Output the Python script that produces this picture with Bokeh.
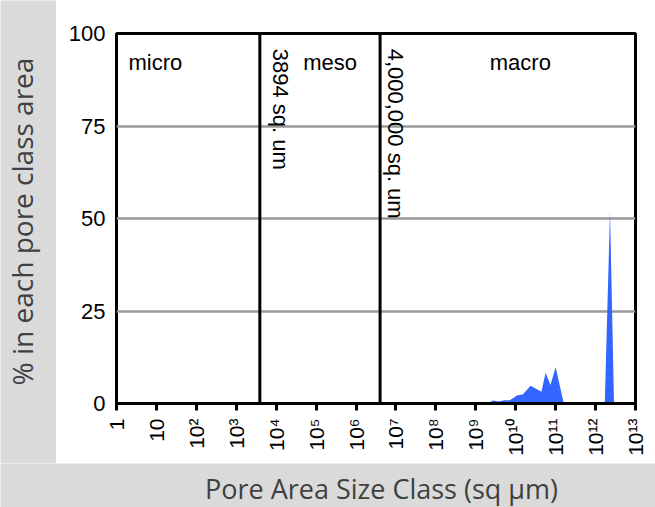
import math
from bokeh.plotting import figure
from bokeh.models import (Range1d, FixedTicker, CustomJSTickFormatter, Span, Label)
from bokeh.layouts import row, column
from bokeh.embed import file_html
from bokeh.resources import INLINE

# ---------------- data ----------------
pore_area = [1.1e9, 1.4e9, 1.8e9, 2.75e9, 3.8e9, 5.1e9, 7.1e9, 1.1e10, 1.5e10,
             2.35e10, 4.4e10, 5.6e10, 7.4e10, 1.0e11, 1.6e11, 1.7e12, 2.3e12, 2.9e12]
pct_area = [0, 0.45, 0, 0.8, 0.55, 0.9, 0.9, 2.25, 2.4,
            4.8, 3.2, 8.3, 5.0, 9.8, 0, 0, 52, 0]

x_ticks = [1, 1e1, 1e2, 1e3, 1e4, 1e5, 1e6, 1e7, 1e8, 1e9, 1e10, 1e11, 1e12, 1e13]
x_tick_labels = ["1", "10", "10²", "10³", "10⁴", "10⁵", "10⁶", "10⁷", "10⁸",
                 "10⁹", "10¹⁰", "10¹¹", "10¹²", "10¹³"]
y_ticks = [0, 25, 50, 75, 100]

class_bounds = [3894, 4000000]
bound_labels = ["3894 sq. um", "4,000,000 sq. um"]
class_names = ["micro", "meso", "macro"]

x_title = "Pore Area Size Class (sq µm)"
y_title = "% in each pore class area"

# ---------------- style ----------------
BG = "#dadada"
FONT = "Liberation Sans"
TITLE_FONT = "Open Sans"
FS = "22px"

p = figure(width=599, height=463, x_axis_type="log",
           x_range=Range1d(1, 1e13), y_range=Range1d(0, 100),
           output_backend="svg", toolbar_location=None, frame_align=False,
           min_border_left=60, min_border_right=20, min_border_top=33, min_border_bottom=60,
           border_fill_color="white", background_fill_color="white",
           outline_line_color="black", outline_line_width=3)

# grid
p.xgrid.visible = False
p.ygrid.ticker = FixedTicker(ticks=y_ticks)
p.ygrid.grid_line_color = "#9a9a9a"
p.ygrid.grid_line_width = 2.5

# y axis
p.yaxis.ticker = FixedTicker(ticks=y_ticks)
p.yaxis.axis_line_color = None
p.yaxis.major_tick_line_color = None
p.yaxis.minor_tick_line_color = None
p.yaxis.major_tick_out = 0
p.yaxis.major_tick_in = 0
p.yaxis.major_label_standoff = 11
p.yaxis.major_label_text_font = FONT
p.yaxis.major_label_text_font_size = FS
p.yaxis.major_label_text_color = "black"

# x axis
p.xaxis.ticker = FixedTicker(ticks=x_ticks)
p.xaxis.axis_line_color = "black"
p.xaxis.axis_line_width = 3
p.xaxis.major_tick_line_color = "black"
p.xaxis.major_tick_line_width = 3
p.xaxis.major_tick_out = 7
p.xaxis.major_tick_in = 0
p.xaxis.minor_tick_line_color = None
p.xaxis.major_label_orientation = math.pi / 2
p.xaxis.major_label_standoff = 8
p.xaxis.major_label_text_font = FONT
p.xaxis.major_label_text_font_size = "21px"
p.xaxis.major_label_text_color = "black"
p.xaxis.formatter = CustomJSTickFormatter(
    args=dict(vals=x_ticks, labels=x_tick_labels),
    code="""
const lt = Math.log10(tick);
for (let i = 0; i < vals.length; i++) {
  if (Math.abs(Math.log10(vals[i]) - lt) < 1e-6) return labels[i];
}
return "";
""")

# area
p.varea(x=pore_area, y1=0, y2=pct_area, fill_color="#3366ff", fill_alpha=1)

# class boundaries
for b in class_bounds:
    p.add_layout(Span(location=b, dimension="height", line_color="black", line_width=3))

name_x = [2, 4.73e4, 2.24e9]
for nx, name in zip(name_x, class_names):
    p.add_layout(Label(x=nx, y=92.2, text=name, text_font=FONT, text_font_size=FS,
                       text_color="black", text_baseline="alphabetic", text_align="left"))

bound_text_x = [1.26e4, 1.0e7]
for bx, t in zip(bound_text_x, bound_labels):
    p.add_layout(Label(x=bx, y=95.9, text=t, angle=-math.pi / 2, text_font=FONT,
                       text_font_size=FS, text_color="black",
                       text_align="left", text_baseline="middle"))

# left title panel
lf = figure(width=56, height=463, output_backend="svg", toolbar_location=None,
            x_axis_location=None, y_axis_location=None, min_border=0, frame_align=False,
            x_range=Range1d(0, 1), y_range=Range1d(0, 1),
            border_fill_color=BG, background_fill_color=BG, outline_line_color=None)
lf.grid.visible = False
lf.add_layout(Label(x=21, y=242, x_units="screen", y_units="screen", text=y_title,
                    angle=math.pi / 2, text_align="center", text_baseline="alphabetic",
                    text_font=TITLE_FONT, text_font_size="28px", text_color="#404040"))

# bottom title panel
bf = figure(width=655, height=44, output_backend="svg", toolbar_location=None,
            x_axis_location=None, y_axis_location=None, min_border=0, frame_align=False,
            x_range=Range1d(0, 1), y_range=Range1d(0, 1),
            border_fill_color=BG, background_fill_color=BG, outline_line_color=None)
bf.grid.visible = False
bf.add_layout(Label(x=381, y=19, x_units="screen", y_units="screen", text=x_title,
                    text_align="center", text_baseline="alphabetic",
                    text_font=TITLE_FONT, text_font_size="27px", text_color="#404040"))

layout = column(row(lf, p), bf)

open("out.html", "w").write(file_html(layout, INLINE))
